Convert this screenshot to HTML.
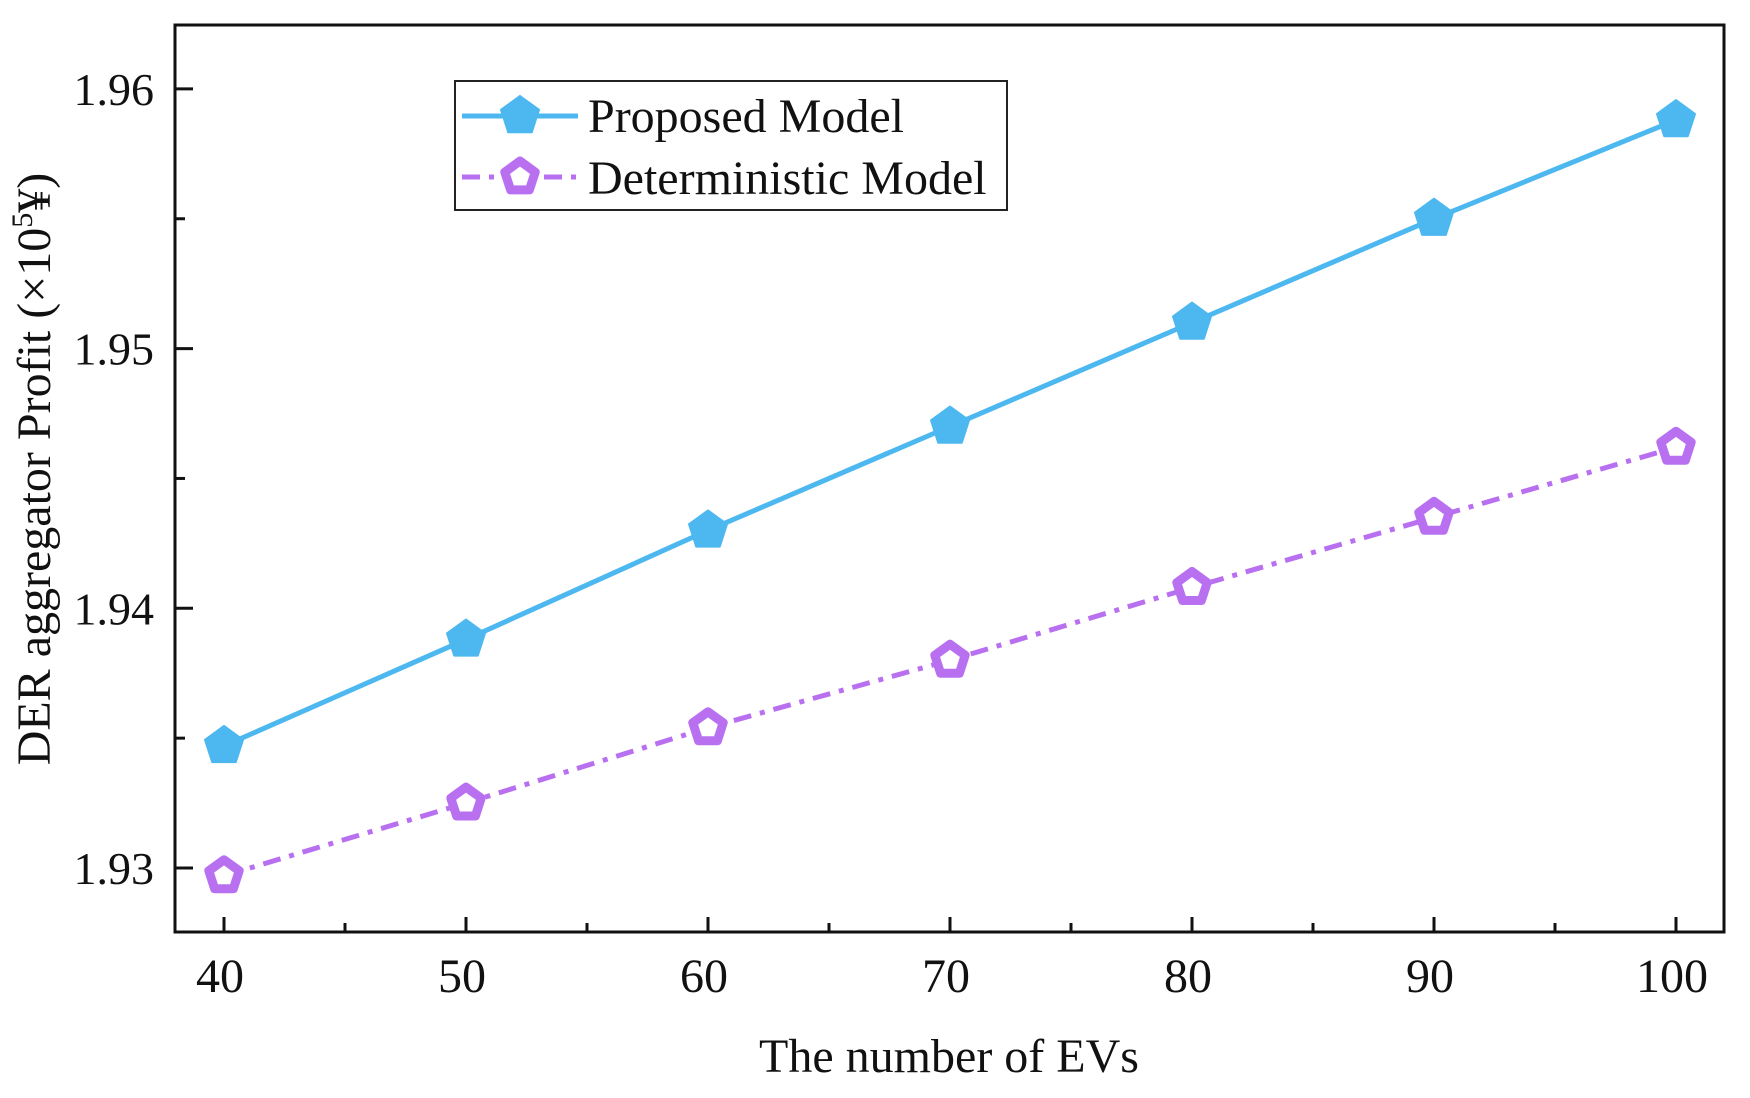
<!DOCTYPE html>
<html><head><meta charset="utf-8"><style>
body{margin:0;background:#fff}
svg text{font-family:"Liberation Serif",serif;fill:#111}
</style></head><body>
<svg id="c" width="1750" height="1093">
<rect x="175" y="25" width="1549" height="907" fill="none" stroke="#111" stroke-width="3"/>
<g id="axes"></g><g id="series"></g>
<text x="50" y="469" font-size="48" text-anchor="middle" transform="rotate(-90 50 469)">DER aggregator Profit (×10<tspan font-size="30" dy="-18">5</tspan><tspan dy="18">¥)</tspan></text>
<text x="949" y="1072" font-size="48" text-anchor="middle">The number of EVs</text>
<g>
<rect x="455" y="81" width="552" height="129" fill="#fff" stroke="#222" stroke-width="2"/>
<line x1="462" y1="116" x2="578" y2="116" stroke="#4db8f0" stroke-width="5"/>
<line x1="462" y1="177" x2="578" y2="177" stroke="#b870f0" stroke-width="5" stroke-dasharray="18,9,5,9"/>
<g id="legmarks"></g>
<text x="588" y="132" font-size="48">Proposed Model</text>
<text x="588" y="194" font-size="48">Deterministic Model</text>
</g>
</svg>
<script>
const categories=[40,50,60,70,80,90,100];
const proposed=[1.9347,1.9388,1.943,1.947,1.951,1.955,1.9588];
const deterministic=[1.9297,1.9325,1.9354,1.938,1.9408,1.9435,1.9462];
const yTicks=[1.93,1.94,1.95,1.96];
const xTicks=[40,50,60,70,80,90,100];
const NS="http://www.w3.org/2000/svg";
const xs=v=>224+(v-40)*24.2;
const ys=v=>868-(v-1.93)*25970;
function mk(t,a,p){const e=document.createElementNS(NS,t);for(const k in a)e.setAttribute(k,a[k]);p.appendChild(e);return e;}
const ax=document.getElementById('axes'),se=document.getElementById('series');
xTicks.forEach(v=>{const l=mk('line',{x1:xs(v),x2:xs(v),y1:932,y2:917,stroke:'#111','stroke-width':3},ax);

const t=mk('text',{x:xs(v)-4,y:992,'font-size':48,'text-anchor':'middle'},ax);t.textContent=v;

if(v<100){const m=mk('line',{x1:xs(v+5),x2:xs(v+5),y1:932,y2:923,stroke:'#111','stroke-width':3},ax);
}});
yTicks.forEach(v=>{const l=mk('line',{x1:175,x2:193,y1:ys(v),y2:ys(v),stroke:'#111','stroke-width':3},ax);

const t=mk('text',{x:154,y:ys(v)+16,'font-size':46,'text-anchor':'end'},ax);t.textContent=v.toFixed(2);

const m=mk('line',{x1:175,x2:185,y1:ys(v+0.005),y2:ys(v+0.005),stroke:'#111','stroke-width':3},ax);
});
function pent(cx,cy,r){let p=[];for(let i=0;i<5;i++){const a=-Math.PI/2+i*2*Math.PI/5;p.push((cx+r*Math.cos(a)).toFixed(1)+','+(cy+r*Math.sin(a)).toFixed(1));}return p.join(' ');}
function series(vals,col,dash,filled,name){
const pl=mk('polyline',{points:categories.map((c,i)=>xs(c)+','+ys(vals[i])).join(' '),fill:'none',stroke:col,'stroke-width':5},se);
if(dash)pl.setAttribute('stroke-dasharray',dash);

categories.forEach((c,i)=>{const p=mk('polygon',{points:pent(xs(c),ys(vals[i]),filled?20:16),fill:filled?col:'#fff',stroke:col,'stroke-width':filled?2:9,'stroke-linejoin':'round'},se);
});}
series(proposed,'#4db8f0',null,true,'proposed');
series(deterministic,'#b870f0','18,9,5,9',false,'deterministic');
const lm=document.getElementById('legmarks');
mk('polygon',{points:pent(520,116,20),fill:'#4db8f0',stroke:'#4db8f0','stroke-width':2},lm);
mk('polygon',{points:pent(520,177,16),fill:'#fff',stroke:'#b870f0','stroke-width':9,'stroke-linejoin':'round'},lm);
</script>
</body></html>
